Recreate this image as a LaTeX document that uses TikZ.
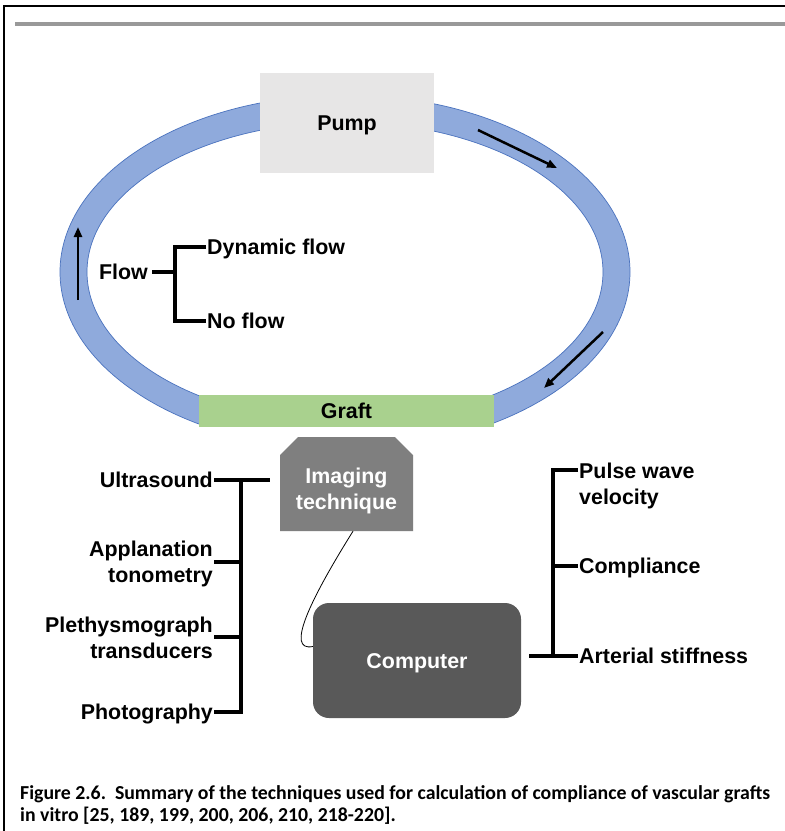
\documentclass[tikz,border=0pt]{standalone}
\usepackage{fontspec}
\setmainfont{Liberation Sans}
\newfontfamily\capfont{Carlito}
\usetikzlibrary{arrows.meta}
\definecolor{ringfill}{HTML}{8FAADC}
\definecolor{ringedge}{HTML}{4A72BE}
\definecolor{pumpfill}{HTML}{E7E6E6}
\definecolor{graftfill}{HTML}{A9D18E}
\definecolor{imgfill}{HTML}{7F7F7F}
\definecolor{compfill}{HTML}{595959}
\definecolor{barfill}{HTML}{999999}
\newcommand\dfont{\fontsize{21.4}{26}\selectfont\bfseries}
\begin{document}
\begin{tikzpicture}[x=1pt,y=-1pt,
 lbl/.style={font=\dfont, inner sep=1pt, text height=15.3pt, text depth=0pt},
 mlbl/.style={font=\dfont, inner sep=1pt},
 bracket/.style={line width=4pt},
 flowarrow/.style={line width=2.5pt, -{Triangle[length=10pt,width=8pt]}},
 box/.style={font=\dfont, inner sep=0pt, text height=15.3pt, text depth=0pt}]
\useasboundingbox (0,0) rectangle (785,831);
\fill[white] (0,0) rectangle (785,831);
% frame
\draw[line width=2pt] (4,831) -- (4,6) -- (785,6);
\fill[barfill] (15,22) rectangle (785,26);
% ring (open at the graft)
\begin{scope}
\clip (0,0) -- (785,0) -- (785,831) -- (494,831) -- (494,426) -- (199,426) -- (199,831) -- (0,831) -- cycle;
\fill[ringfill, even odd rule] (345,272) ellipse [x radius=285pt, y radius=177pt]
  (345,272) ellipse [x radius=258pt, y radius=150pt];
\draw[ringedge, line width=0.7pt] (345,272) ellipse [x radius=285pt, y radius=177pt];
\draw[ringedge, line width=0.7pt] (345,272) ellipse [x radius=258pt, y radius=150pt];
\end{scope}
% pump and graft
\node[box, fill=pumpfill, minimum width=174pt, minimum height=100pt] (pump) at (347,123) {Pump};
\node[box, fill=graftfill, minimum width=295pt, minimum height=32pt] (graft) at (346.5,411) {Graft};
% flow arrows
\coordinate (a1s) at (78,300); \coordinate (a1e) at (78,227);
\coordinate (a2s) at (478,130); \coordinate (a2e) at (557,168);
\coordinate (a3s) at (603,332); \coordinate (a3e) at (544,388);
\draw[flowarrow] (a1s) -- (a1e);
\draw[flowarrow] (a2s) -- (a2e);
\draw[flowarrow] (a3s) -- (a3e);
% flow bracket
\node[lbl, anchor=east] (flow) at (149,272) {Flow};
\node[lbl, anchor=west] (dyn) at (206,247) {Dynamic flow};
\node[lbl, anchor=west] (nof) at (206,321) {No flow};
\coordinate (fT) at (175,247); \coordinate (fB) at (175,321); \coordinate (fM) at (175,272);
\draw[bracket] (dyn.west) -- (fT) -- (fB) -- (nof.west);
\draw[bracket] ([xshift=3pt]flow.east) -- (fM);
% imaging technique
\fill[imgfill] (280,455) -- (298,437) -- (395,437) -- (413,455) -- (413,531) -- (280,531) -- cycle;
\node[mlbl, text=white, align=center, minimum width=133pt, minimum height=80pt] (img) at (346.5,491) {Imaging\\technique};
% computer
\node[box, fill=compfill, text=white, rounded corners=16pt, minimum width=208pt, minimum height=115pt] (comp) at (417,660.5) {Computer};
\draw[line width=0.8pt] ([xshift=6.5pt]img.south) .. controls (310,600) and (285,652) .. ([yshift=14pt]comp.west);
% left bracket
\node[lbl, anchor=east] (us) at (214,480) {Ultrasound};
\node[mlbl, align=right, anchor=base east] (app) at (214,582) {Applanation\\tonometry};
\node[mlbl, align=right, anchor=base east] (ple) at (214,658) {Plethysmograph\\transducers};
\node[lbl, anchor=east] (pho) at (214,712) {Photography};
\coordinate (lbT) at (241,480); \coordinate (lbE) at (270,480);
\coordinate (lbA) at (241,562); \coordinate (lbP) at (241,637);
\coordinate (lbB) at (241,712);
\draw[bracket] (us.east) -- (lbE);
\draw[bracket] (pho.east) -- (lbB) -- (lbT);
\draw[bracket] (lbA) -- (lbA -| app.east);
\draw[bracket] (lbP) -- (lbP -| ple.east);
% right bracket
\node[mlbl, align=left, anchor=base west] (pwv) at (578,504) {Pulse wave\\velocity};
\node[lbl, anchor=west] (cmpl) at (578,566) {Compliance};
\node[lbl, anchor=west] (art) at (578,656) {Arterial stiffness};
\coordinate (rbT) at (553,470); \coordinate (rbM) at (553,566);
\coordinate (rbB) at (553,656); \coordinate (rbL) at (529,656);
\draw[bracket] (pwv.west |- rbT) -- (rbT) -- (rbB);
\draw[bracket] (rbM) -- (cmpl.west);
\draw[bracket] (rbL) -- (art.west);
% caption
\node[anchor=base west, align=left, inner sep=0pt, font=\capfont\bfseries\fontsize{19.8}{22}\selectfont] (cap) at (20,821)
 {Figure 2.6.\ \ Summary of the techniques used for calculation of compliance of vascular grafts\\in vitro [25, 189, 199, 200, 206, 210, 218-220].};
\end{tikzpicture}
\end{document}
